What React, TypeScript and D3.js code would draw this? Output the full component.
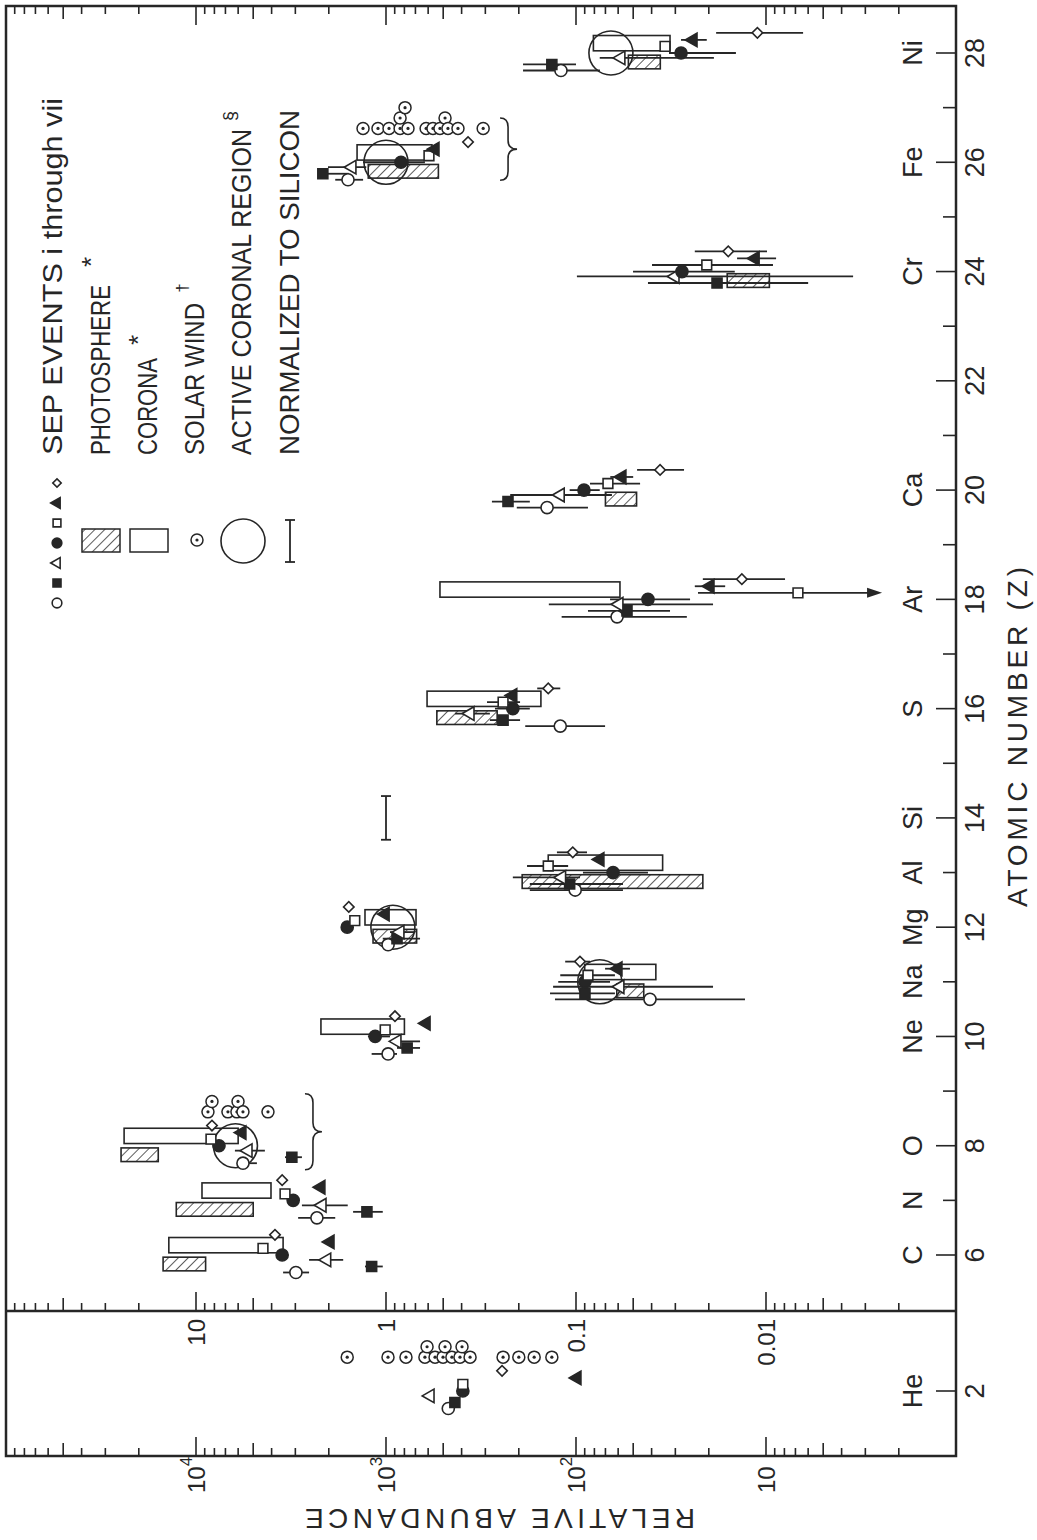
import React from "react";
import * as d3 from "d3";

// ---------------------------------------------------------------------------
// Elements and axis labels
// ---------------------------------------------------------------------------
const elementSymbols = ["He", "C", "N", "O", "Ne", "Na", "Mg", "Al", "Si", "S", "Ar", "Ca", "Cr", "Fe", "Ni"];
const elementZ = [2, 6, 7, 8, 10, 11, 12, 13, 14, 16, 18, 20, 24, 26, 28];
const zAxisNumbers = [2, 6, 8, 10, 12, 14, 16, 18, 20, 22, 24, 26, 28];

const abundanceTickValues = [1e4, 1e3, 1e2, 10];
const abundanceTickBase = ["10", "10", "10", "10"];
const abundanceTickExp = ["4", "3", "2", ""];
const heTickValues = [10, 1, 0.1, 0.01];
const heTickLabels = ["10", "1", "0.1", "0.01"];

// ---------------------------------------------------------------------------
// SEP events i .. vii : [abundance, error low, error high] (Si = 10^3; He panel: Si = 1)
// ---------------------------------------------------------------------------
const sepElements = ["He", "C", "N", "O", "Ne", "Na", "Mg", "Al", "S", "Ar", "Ca", "Cr", "Fe", "Ni"];

const sepEventI = [
  [0.47, null, null],
  [2980, 2540, 3480],
  [2310, 1850, 2900],
  [5660, 4780, 6010],
  [975, 875, 1190],
  [40.8, 12.9, 129],
  [975, null, null],
  [101, 56.6, 175],
  [121, 70.3, 185],
  [60.8, 26.1, 119],
  [142, 86.5, 205],
  null,
  [1585, 1320, 1850],
  [120, 74.8, 190],
];
const sepEventII = [
  [0.434, null, null],
  [1190, 1040, 1290],
  [1260, 1040, 1490],
  [3130, 2770, 3400],
  [774, 662, 875],
  [89.7, 62.4, 137],
  [875, 662, 1040],
  [108, 56.6, 175],
  [242, 197, 284],
  [53.9, 32, 86.5],
  [228, 175, 277],
  [18.1, 6.0, 41.8],
  [2150, 1570, 2280],
  [134, 100, 190],
];
const sepEventIII = [
  [0.586, null, null],
  [2050, 1680, 2540],
  [2170, 1590, 2770],
  [5320, 4340, 6240],
  [875, 662, 953],
  [58.7, 19, 132],
  [844, 703, 953],
  [119, 95.3, 215],
  [361, 284, 433],
  [59.4, 19, 139],
  [121, 64.7, 222],
  [30.1, 3.48, 98.9],
  [1510, 1270, 2020],
  [58, 18.8, 75],
];
const sepEventIV = [
  [0.394, null, null],
  [3520, null, null],
  [3080, null, null],
  [7570, null, null],
  [1140, 953, 1245],
  [89.7, 66.2, 124],
  [1600, null, null],
  [63.8, 41.8, 91.9],
  [215, 175, 267],
  [41.8, 25.1, 66.2],
  [90.8, 75, 108],
  [27.7, 14.6, 50.1],
  [834, 624, 1320],
  [28, 14.4, 32.4],
];
const sepEventV = [
  [0.394, null, null],
  [4440, null, null],
  [3400, null, null],
  [8340, null, null],
  [1010, null, null],
  [86.5, 62.4, 121],
  [1460, null, null],
  [140, 110, 181],
  [242, 197, 294],
  [6.79, 2.45, 22.8],
  [67.9, 46, 84.4],
  [20.5, 9.19, 39.8],
  [594, null, null],
  [34, null, null],
];
const sepEventVI = [
  [0.0988, null, null],
  [1970, null, null],
  [2200, null, null],
  [5730, null, null],
  [615, null, null],
  [60.1, 52, 70.3],
  [1010, null, null],
  [74.8, null, null],
  [215, null, null],
  [19.7, 16.4, 23.7],
  [57.3, 50, 66],
  [11.4, 8.85, 14.2],
  [552, null, null],
  [24.2, 20.5, 28],
];
const sepEventVII = [
  [0.245, null, null],
  [3840, null, null],
  [3520, null, null],
  [8240, null, null],
  [897, null, null],
  [95.3, 84.4, 114],
  [1570, null, null],
  [104, 87.5, 126],
  [140, 121, 160],
  [13.4, 7.94, 21.5],
  [36.1, 27, 47.7],
  [15.8, 9.88, 23.7],
  [370, null, null],
  [11.1, 6.38, 18.3],
];
const sepEvents = [sepEventI, sepEventII, sepEventIII, sepEventIV, sepEventV, sepEventVI, sepEventVII];
// Argon in event v is an upper limit (error bar ends in an arrow)
const upperLimitEvent = 4;
const upperLimitElement = "Ar";

// ---------------------------------------------------------------------------
// Photosphere, corona, active coronal region, solar wind
// ---------------------------------------------------------------------------
const photoElements = ["C", "N", "O", "Na", "Mg", "Al", "S", "Ca", "Cr", "Fe", "Ni"];
const photoLow = [8900, 5000, 15800, 44, 690, 21.5, 260, 48, 9.6, 530, 36];
const photoHigh = [14900, 12700, 24800, 61, 1170, 192, 540, 70, 16, 1240, 53];

const coronaElements = ["C", "N", "O", "Ne", "Na", "Mg", "Al", "S", "Ar", "Fe", "Ni"];
const coronaLow = [3480, 4030, 6000, 800, 38, 695, 35, 153, 58.7, 573, 32];
const coronaHigh = [13900, 9300, 23900, 2200, 90, 1290, 140, 608, 520, 1420, 81];

const activeElements = ["O", "Na", "Mg", "Fe", "Ni"];
const activeValues = [6200, 75, 920, 1000, 65.5];

const solarWindHe = [1.6, 0.976, 0.785, 0.624, 0.608, 0.552, 0.501, 0.489, 0.45, 0.408, 0.398, 0.361, 0.242, 0.2, 0.166, 0.134];
const solarWindO = [8650, 8240, 6790, 6090, 6010, 5660, 4180];
const solarWindFe = [1321, 1102, 964, 843, 843, 794, 766, 615, 566, 520, 489, 472, 418, 308];

// Braces grouping the solar-wind spread for O and Fe
const braceElements = ["O", "Fe"];
const braceValues = [2670, 251];
const braceSpanLow = [-0.44, -0.33];
const braceSpanHigh = [0.95, 0.81];

// Normalization bar at Si
const normValue = 1000;

// ---------------------------------------------------------------------------
// Layout
// ---------------------------------------------------------------------------
const W = 1037;
const H = 1540;
const X_LEFT = 6;
const X_RIGHT = 956;
const Y_TOP = 6;
const Y_SEP = 1311;
const Y_BOTTOM = 1456;
const INK = "#262626";
const FONT = "'Liberation Sans', Arial, Helvetica, sans-serif";

const markerKinds = ["circleOpen", "squareFilled", "triangleOpen", "circleFilled", "squareOpen", "triangleFilled", "diamondOpen"];
const eventOffsets = [-0.32, -0.21, -0.09, 0, 0.12, 0.24, 0.37];
const photoOffset = [-0.29, -0.04];
const coronaOffset = [0.04, 0.32];
const windRow0 = 0.62;
const windRowStep = 0.19;

function markerShape(kind: string, scale = 1) {
  const s2 = scale * scale;
  const sym = (type: d3.SymbolType, size: number) => d3.symbol().type(type).size(size * s2)() as string;
  switch (kind) {
    case "circleOpen":
      return { d: sym(d3.symbolCircle, 115), filled: false, rot: 0 };
    case "circleFilled":
      return { d: sym(d3.symbolCircle, 115), filled: true, rot: 0 };
    case "squareFilled":
      return { d: sym(d3.symbolSquare, 100), filled: true, rot: 0 };
    case "squareOpen":
      return { d: sym(d3.symbolSquare, 95), filled: false, rot: 0 };
    case "triangleOpen":
      return { d: sym(d3.symbolTriangle, 80), filled: false, rot: -90 };
    case "triangleFilled":
      return { d: sym(d3.symbolTriangle, 80), filled: true, rot: -90 };
    default:
      return { d: sym(d3.symbolSquare, 55), filled: false, rot: 45 };
  }
}

function Marker({ kind, cx, cy, scale = 1 }: { kind: string; cx: number; cy: number; scale?: number }) {
  const m = markerShape(kind, scale);
  return (
    <path
      d={m.d}
      transform={`translate(${cx},${cy}) rotate(${m.rot})`}
      fill={m.filled ? INK : "#fff"}
      stroke={INK}
      strokeWidth={1.6}
    />
  );
}

function WindSymbol({ cx, cy }: { cx: number; cy: number }) {
  return (
    <g>
      <circle cx={cx} cy={cy} r={6} fill="#fff" stroke={INK} strokeWidth={1.5} />
      <circle cx={cx} cy={cy} r={1.6} fill={INK} />
    </g>
  );
}

// stack overlapping points into rows
function dodgeRows(xs: number[], gap: number): number[] {
  const order = xs.map((_, i) => i).sort((a, b) => xs[a] - xs[b]);
  const rows: number[][] = [];
  const out = new Array(xs.length).fill(0);
  for (const i of order) {
    let r = 0;
    while (rows[r] && rows[r].some((p) => Math.abs(p - xs[i]) < gap)) r++;
    if (!rows[r]) rows[r] = [];
    rows[r].push(xs[i]);
    out[i] = r;
  }
  return out;
}

function RotText({
  x,
  y,
  children,
  size = 26,
  anchor = "middle",
  rotate = -90,
  length,
  squeeze = false,
}: {
  x: number;
  y: number;
  children: React.ReactNode;
  size?: number;
  anchor?: string;
  rotate?: number;
  length?: number;
  squeeze?: boolean;
}) {
  return (
    <text
      transform={`translate(${x},${y}) rotate(${rotate})`}
      textAnchor={anchor as any}
      dominantBaseline="central"
      fontFamily={FONT}
      fontSize={size}
      fill={INK}
      textLength={length}
      lengthAdjust={length ? (squeeze ? "spacingAndGlyphs" : "spacing") : undefined}
    >
      {children}
    </text>
  );
}

export default function App() {
  const x = d3.scaleLog().domain([1e5, 1]).range([X_LEFT, X_RIGHT]);
  const xHe = d3.scaleLog().domain([100, 1e-3]).range([X_LEFT, X_RIGHT]);
  const y = d3.scaleLinear().domain([6, 28]).range([1255, 53]);
  const zStep = (1255 - 53) / 22;
  const yHe = d3.scaleLinear().domain([2, 3]).range([1391, 1391 - zStep]);

  const zOf = (el: string) => elementZ[elementSymbols.indexOf(el)];
  const px = (el: string, v: number) => (el === "He" ? xHe(v) : x(v));
  const py = (el: string, dz: number) => (el === "He" ? yHe(2 + dz) : y(zOf(el) + dz));

  // log ticks along the abundance axis
  const logTicks: { v: number; len: number }[] = [];
  for (let e = 0; e < 5; e++) {
    for (let m = 1; m < 10; m++) {
      logTicks.push({ v: m * Math.pow(10, e), len: m === 1 ? 19 : m === 5 ? 13 : 8 });
    }
  }

  const zTicks = d3.range(6, 29);

  const windSets = [
    { el: "He", values: solarWindHe },
    { el: "O", values: solarWindO },
    { el: "Fe", values: solarWindFe },
  ];

  const braces = braceElements.map((el, i) => {
    const xa = x(braceValues[i]);
    const yTop = py(el, braceSpanHigh[i]);
    const yBot = py(el, braceSpanLow[i]);
    const mid = (yTop + yBot) / 2;
    const xm = xa + 8;
    const xt = xa + 17;
    const p = d3.path();
    p.moveTo(xa, yTop);
    p.quadraticCurveTo(xm, yTop, xm, yTop + 9);
    p.lineTo(xm, mid - 9);
    p.quadraticCurveTo(xm, mid, xt, mid);
    p.quadraticCurveTo(xm, mid, xm, mid + 9);
    p.lineTo(xm, yBot - 9);
    p.quadraticCurveTo(xm, yBot, xa, yBot);
    return p.toString();
  });

  const legendY = [603, 583, 563, 543, 523, 503, 483];

  return (
    <svg
      width={W}
      height={H}
      viewBox={`0 0 ${W} ${H}`}
      style={{ position: "absolute", left: 0, top: 0, background: "#fff" }}
    >
      <defs>
        <pattern id="hatch" width={7} height={7} patternUnits="userSpaceOnUse" patternTransform="rotate(45)">
          <rect width={7} height={7} fill="#fff" />
          <line x1={0} y1={0} x2={0} y2={7} stroke={INK} strokeWidth={1.5} />
        </pattern>
      </defs>

      {/* frame and panel divider */}
      <rect
        x={X_LEFT}
        y={Y_TOP}
        width={X_RIGHT - X_LEFT}
        height={Y_BOTTOM - Y_TOP}
        fill="none"
        stroke={INK}
        strokeWidth={2.5}
      />
      <line x1={X_LEFT} x2={X_RIGHT} y1={Y_SEP} y2={Y_SEP} stroke={INK} strokeWidth={2.5} />

      {/* abundance ticks */}
      {logTicks.map((t, i) => {
        const xx = x(t.v);
        return (
          <g key={`lt${i}`} stroke={INK} strokeWidth={1.6}>
            <line x1={xx} x2={xx} y1={Y_TOP} y2={Y_TOP + t.len} />
            <line x1={xx} x2={xx} y1={Y_SEP} y2={Y_SEP - t.len} />
            <line x1={xx} x2={xx} y1={Y_BOTTOM} y2={Y_BOTTOM - t.len} />
          </g>
        );
      })}

      {/* atomic number ticks */}
      {zTicks.map((z) => (
        <line
          key={`zt${z}`}
          x1={X_RIGHT}
          x2={X_RIGHT - (z % 2 === 0 ? 20 : 13)}
          y1={y(z)}
          y2={y(z)}
          stroke={INK}
          strokeWidth={1.6}
        />
      ))}
      <line x1={X_RIGHT} x2={X_RIGHT - 20} y1={yHe(2)} y2={yHe(2)} stroke={INK} strokeWidth={1.6} />

      {/* atomic number labels */}
      {zAxisNumbers.map((z) => (
        <RotText key={`zn${z}`} x={975} y={z === 2 ? yHe(2) : y(z)} size={27}>
          {String(z)}
        </RotText>
      ))}
      {elementSymbols.map((el, i) => (
        <RotText key={`el${el}`} x={913} y={el === "He" ? yHe(2) : y(elementZ[i])} size={27}>
          {el}
        </RotText>
      ))}
      <RotText x={1017} y={737} size={28} length={340}>
        ATOMIC NUMBER (Z)
      </RotText>

      {/* abundance labels */}
      {abundanceTickValues.map((v, i) => (
        <text
          key={`al${i}`}
          transform={`translate(${x(v)},1493) rotate(-90)`}
          textAnchor="start"
          dominantBaseline="central"
          fontFamily={FONT}
          fontSize={24}
          fill={INK}
        >
          {abundanceTickBase[i]}
          {abundanceTickExp[i] && (
            <tspan dy={-10} fontSize={17}>
              {abundanceTickExp[i]}
            </tspan>
          )}
        </text>
      ))}
      {heTickValues.map((v, i) => (
        <RotText key={`hl${i}`} x={xHe(v)} y={Y_SEP + 8} size={24} anchor="end">
          {heTickLabels[i]}
        </RotText>
      ))}
      <RotText x={500} y={1518} size={28} rotate={180} length={390}>
        RELATIVE ABUNDANCE
      </RotText>

      {/* photosphere bars */}
      {photoElements.map((el, i) => {
        const x0 = x(photoLow[i]);
        const x1 = x(photoHigh[i]);
        const y0 = py(el, photoOffset[1]);
        const y1 = py(el, photoOffset[0]);
        return (
          <rect
            key={`ph${el}`}
            x={Math.min(x0, x1)}
            y={y0}
            width={Math.abs(x0 - x1)}
            height={y1 - y0}
            fill="url(#hatch)"
            stroke={INK}
            strokeWidth={1.6}
          />
        );
      })}

      {/* corona bars */}
      {coronaElements.map((el, i) => {
        const x0 = x(coronaLow[i]);
        const x1 = x(coronaHigh[i]);
        const y0 = py(el, coronaOffset[1]);
        const y1 = py(el, coronaOffset[0]);
        return (
          <rect
            key={`co${el}`}
            x={Math.min(x0, x1)}
            y={y0}
            width={Math.abs(x0 - x1)}
            height={y1 - y0}
            fill="none"
            stroke={INK}
            strokeWidth={1.6}
          />
        );
      })}

      {/* active coronal region */}
      {activeElements.map((el, i) => (
        <circle
          key={`ac${el}`}
          cx={x(activeValues[i])}
          cy={py(el, 0)}
          r={22}
          fill="none"
          stroke={INK}
          strokeWidth={1.6}
        />
      ))}

      {/* normalization bar at Si */}
      {(() => {
        const xx = x(normValue);
        const ya = py("Si", 0.4);
        const yb = py("Si", -0.4);
        return (
          <g stroke={INK} strokeWidth={1.8}>
            <line x1={xx} x2={xx} y1={ya} y2={yb} />
            <line x1={xx - 5} x2={xx + 5} y1={ya} y2={ya} />
            <line x1={xx - 5} x2={xx + 5} y1={yb} y2={yb} />
          </g>
        );
      })()}

      {/* SEP error bars */}
      {sepEvents.map((ev, k) =>
        ev.map((pt, i) => {
          if (!pt || pt[1] == null || pt[2] == null) return null;
          const el = sepElements[i];
          const yy = py(el, eventOffsets[k]);
          const xa = px(el, pt[2] as number);
          const xb = px(el, pt[1] as number);
          const isLimit = k === upperLimitEvent && el === upperLimitElement;
          return (
            <g key={`eb${k}-${i}`}>
              <line x1={xa} x2={isLimit ? xb - 12 : xb} y1={yy} y2={yy} stroke={INK} strokeWidth={1.8} />
              {isLimit && <path d={`M${xb},${yy} L${xb - 15},${yy - 5} L${xb - 15},${yy + 5} Z`} fill={INK} />}
            </g>
          );
        })
      )}

      {/* SEP markers */}
      {sepEvents.map((ev, k) =>
        ev.map((pt, i) => {
          if (!pt) return null;
          const el = sepElements[i];
          return (
            <Marker
              key={`mk${k}-${i}`}
              kind={markerKinds[k]}
              cx={px(el, pt[0] as number)}
              cy={py(el, eventOffsets[k])}
            />
          );
        })
      )}

      {/* solar wind */}
      {windSets.map((set) => {
        const xs = set.values.map((v) => px(set.el, v));
        const rows = dodgeRows(xs, 6);
        return xs.map((xx, i) => (
          <WindSymbol key={`sw${set.el}${i}`} cx={xx} cy={py(set.el, windRow0 + rows[i] * windRowStep)} />
        ));
      })}

      {/* braces */}
      {braces.map((d, i) => (
        <path key={`br${i}`} d={d} fill="none" stroke={INK} strokeWidth={1.6} />
      ))}

      {/* legend */}
      {markerKinds.map((k, i) => (
        <Marker key={`lg${k}`} kind={k} cx={57} cy={legendY[i]} scale={0.8} />
      ))}
      <rect x={82} y={529} width={38} height={23} fill="url(#hatch)" stroke={INK} strokeWidth={1.5} />
      <rect x={130} y={529} width={38} height={23} fill="none" stroke={INK} strokeWidth={1.5} />
      <WindSymbol cx={197} cy={540} />
      <circle cx={243} cy={541} r={22} fill="none" stroke={INK} strokeWidth={1.6} />
      <g stroke={INK} strokeWidth={1.8}>
        <line x1={290} x2={290} y1={520} y2={562} />
        <line x1={285} x2={295} y1={520} y2={520} />
        <line x1={285} x2={295} y1={562} y2={562} />
      </g>

      <RotText x={53} y={455} size={27} anchor="start" length={357} squeeze>
        SEP EVENTS i through vii
      </RotText>
      <RotText x={101} y={455} size={27} anchor="start" length={170} squeeze>
        PHOTOSPHERE
      </RotText>
      <RotText x={91} y={262} size={26}>
        *
      </RotText>
      <RotText x={148} y={455} size={27} anchor="start" length={97} squeeze>
        CORONA
      </RotText>
      <RotText x={138} y={340} size={26}>
        *
      </RotText>
      <RotText x={195} y={455} size={27} anchor="start" length={152} squeeze>
        SOLAR WIND
      </RotText>
      <RotText x={182} y={288} size={17}>
        †
      </RotText>
      <RotText x={242} y={455} size={27} anchor="start" length={326} squeeze>
        ACTIVE CORONAL REGION
      </RotText>
      <RotText x={230} y={116} size={18}>
        §
      </RotText>
      <RotText x={290} y={455} size={27} anchor="start" length={345} squeeze>
        NORMALIZED TO SILICON
      </RotText>
    </svg>
  );
}
